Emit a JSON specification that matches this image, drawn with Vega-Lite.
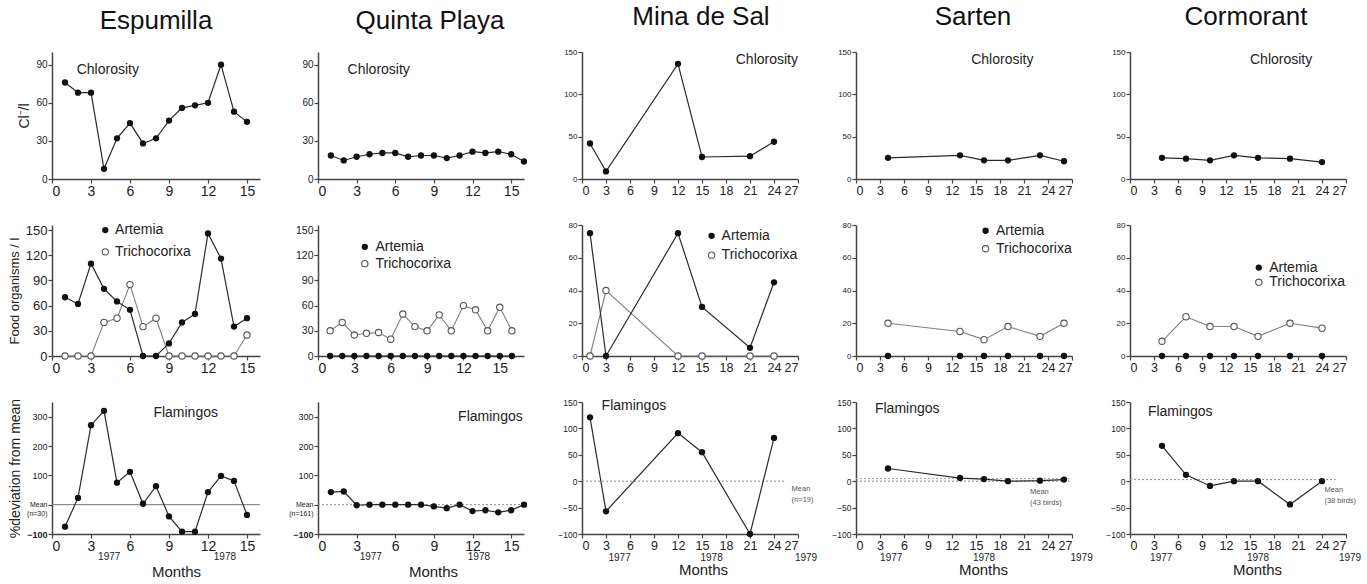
{
 "$schema": "https://vega.github.io/schema/vega-lite/v6.json",
 "padding": {"left": 8, "top": 4, "right": 0, "bottom": 0},
 "background": "white",
 "config": {
  "font": "Liberation Sans",
  "view": {"stroke": null},
  "axis": {"grid": false, "labelOverlap": false, "domainColor": "#444", "domainWidth": 1.5, "tickColor": "#444", "tickWidth": 1.2, "tickSize": 4, "labelColor": "#222", "titleColor": "#222", "titleFontWeight": "normal", "labelPadding": 1, "labelFont": "Liberation Sans", "titleFont": "Liberation Sans"},
  "title": {"font": "Liberation Sans", "fontWeight": "normal", "fontSize": 26, "color": "#111", "frame": "group", "anchor": "middle", "offset": 18},
  "text": {"font": "Liberation Sans", "color": "#222"}
 },
 "datasets": {
  "chl": [
   {"site":"Espumilla","m":1,"v":76},{"site":"Espumilla","m":2,"v":68},{"site":"Espumilla","m":3,"v":68},{"site":"Espumilla","m":4,"v":8},{"site":"Espumilla","m":5,"v":32},{"site":"Espumilla","m":6,"v":44},{"site":"Espumilla","m":7,"v":28},{"site":"Espumilla","m":8,"v":32},{"site":"Espumilla","m":9,"v":46},{"site":"Espumilla","m":10,"v":56},{"site":"Espumilla","m":11,"v":58},{"site":"Espumilla","m":12,"v":60},{"site":"Espumilla","m":13,"v":90},{"site":"Espumilla","m":14,"v":53},{"site":"Espumilla","m":15,"v":45},
   {"site":"Quinta Playa","m":1,"v":18.5},{"site":"Quinta Playa","m":2,"v":14.6},{"site":"Quinta Playa","m":3,"v":17.5},{"site":"Quinta Playa","m":4,"v":19.5},{"site":"Quinta Playa","m":5,"v":20.5},{"site":"Quinta Playa","m":6,"v":20.5},{"site":"Quinta Playa","m":7,"v":17.5},{"site":"Quinta Playa","m":8,"v":18.5},{"site":"Quinta Playa","m":9,"v":18.5},{"site":"Quinta Playa","m":10,"v":16.5},{"site":"Quinta Playa","m":11,"v":18.5},{"site":"Quinta Playa","m":12,"v":21.5},{"site":"Quinta Playa","m":13,"v":20.5},{"site":"Quinta Playa","m":14,"v":21.5},{"site":"Quinta Playa","m":15,"v":19.5},{"site":"Quinta Playa","m":16,"v":13.8},
   {"site":"Mina de Sal","m":1,"v":42},{"site":"Mina de Sal","m":3,"v":9},{"site":"Mina de Sal","m":12,"v":136},{"site":"Mina de Sal","m":15,"v":26},{"site":"Mina de Sal","m":21,"v":27},{"site":"Mina de Sal","m":24,"v":44},
   {"site":"Sarten","m":4,"v":25},{"site":"Sarten","m":13,"v":28},{"site":"Sarten","m":16,"v":22},{"site":"Sarten","m":19,"v":22},{"site":"Sarten","m":23,"v":28},{"site":"Sarten","m":26,"v":21},
   {"site":"Cormorant","m":4,"v":25},{"site":"Cormorant","m":7,"v":24},{"site":"Cormorant","m":10,"v":22},{"site":"Cormorant","m":13,"v":28},{"site":"Cormorant","m":16,"v":25},{"site":"Cormorant","m":20,"v":24},{"site":"Cormorant","m":24,"v":20}
  ],
  "food": [
   {"site":"Espumilla","sp":"Artemia","m":1,"v":70},{"site":"Espumilla","sp":"Artemia","m":2,"v":62},{"site":"Espumilla","sp":"Artemia","m":3,"v":110},{"site":"Espumilla","sp":"Artemia","m":4,"v":80},{"site":"Espumilla","sp":"Artemia","m":5,"v":65},{"site":"Espumilla","sp":"Artemia","m":6,"v":55},{"site":"Espumilla","sp":"Artemia","m":7,"v":0},{"site":"Espumilla","sp":"Artemia","m":8,"v":0},{"site":"Espumilla","sp":"Artemia","m":9,"v":15},{"site":"Espumilla","sp":"Artemia","m":10,"v":40},{"site":"Espumilla","sp":"Artemia","m":11,"v":50},{"site":"Espumilla","sp":"Artemia","m":12,"v":146},{"site":"Espumilla","sp":"Artemia","m":13,"v":116},{"site":"Espumilla","sp":"Artemia","m":14,"v":35},{"site":"Espumilla","sp":"Artemia","m":15,"v":45},
   {"site":"Espumilla","sp":"Trichocorixa","m":1,"v":0},{"site":"Espumilla","sp":"Trichocorixa","m":2,"v":0},{"site":"Espumilla","sp":"Trichocorixa","m":3,"v":0},{"site":"Espumilla","sp":"Trichocorixa","m":4,"v":40},{"site":"Espumilla","sp":"Trichocorixa","m":5,"v":45},{"site":"Espumilla","sp":"Trichocorixa","m":6,"v":85},{"site":"Espumilla","sp":"Trichocorixa","m":7,"v":35},{"site":"Espumilla","sp":"Trichocorixa","m":8,"v":45},{"site":"Espumilla","sp":"Trichocorixa","m":9,"v":0},{"site":"Espumilla","sp":"Trichocorixa","m":10,"v":0},{"site":"Espumilla","sp":"Trichocorixa","m":11,"v":0},{"site":"Espumilla","sp":"Trichocorixa","m":12,"v":0},{"site":"Espumilla","sp":"Trichocorixa","m":13,"v":0},{"site":"Espumilla","sp":"Trichocorixa","m":14,"v":0},{"site":"Espumilla","sp":"Trichocorixa","m":15,"v":25},
   {"site":"Quinta Playa","sp":"Artemia","m":1,"v":0},{"site":"Quinta Playa","sp":"Artemia","m":2,"v":0},{"site":"Quinta Playa","sp":"Artemia","m":3,"v":0},{"site":"Quinta Playa","sp":"Artemia","m":4,"v":0},{"site":"Quinta Playa","sp":"Artemia","m":5,"v":0},{"site":"Quinta Playa","sp":"Artemia","m":6,"v":0},{"site":"Quinta Playa","sp":"Artemia","m":7,"v":0},{"site":"Quinta Playa","sp":"Artemia","m":8,"v":0},{"site":"Quinta Playa","sp":"Artemia","m":9,"v":0},{"site":"Quinta Playa","sp":"Artemia","m":10,"v":0},{"site":"Quinta Playa","sp":"Artemia","m":11,"v":0},{"site":"Quinta Playa","sp":"Artemia","m":12,"v":0},{"site":"Quinta Playa","sp":"Artemia","m":13,"v":0},{"site":"Quinta Playa","sp":"Artemia","m":14,"v":0},{"site":"Quinta Playa","sp":"Artemia","m":15,"v":0},{"site":"Quinta Playa","sp":"Artemia","m":16,"v":0},
   {"site":"Quinta Playa","sp":"Trichocorixa","m":1,"v":30},{"site":"Quinta Playa","sp":"Trichocorixa","m":2,"v":40},{"site":"Quinta Playa","sp":"Trichocorixa","m":3,"v":25},{"site":"Quinta Playa","sp":"Trichocorixa","m":4,"v":27},{"site":"Quinta Playa","sp":"Trichocorixa","m":5,"v":28},{"site":"Quinta Playa","sp":"Trichocorixa","m":6,"v":20},{"site":"Quinta Playa","sp":"Trichocorixa","m":7,"v":50},{"site":"Quinta Playa","sp":"Trichocorixa","m":8,"v":35},{"site":"Quinta Playa","sp":"Trichocorixa","m":9,"v":30},{"site":"Quinta Playa","sp":"Trichocorixa","m":10,"v":49},{"site":"Quinta Playa","sp":"Trichocorixa","m":11,"v":30},{"site":"Quinta Playa","sp":"Trichocorixa","m":12,"v":60},{"site":"Quinta Playa","sp":"Trichocorixa","m":13,"v":55},{"site":"Quinta Playa","sp":"Trichocorixa","m":14,"v":30},{"site":"Quinta Playa","sp":"Trichocorixa","m":15,"v":58},{"site":"Quinta Playa","sp":"Trichocorixa","m":16,"v":30},
   {"site":"Mina de Sal","sp":"Artemia","m":1,"v":75},{"site":"Mina de Sal","sp":"Artemia","m":3,"v":0},{"site":"Mina de Sal","sp":"Artemia","m":12,"v":75},{"site":"Mina de Sal","sp":"Artemia","m":15,"v":30},{"site":"Mina de Sal","sp":"Artemia","m":21,"v":5},{"site":"Mina de Sal","sp":"Artemia","m":24,"v":45},
   {"site":"Mina de Sal","sp":"Trichocorixa","m":1,"v":0},{"site":"Mina de Sal","sp":"Trichocorixa","m":3,"v":40},{"site":"Mina de Sal","sp":"Trichocorixa","m":12,"v":0},{"site":"Mina de Sal","sp":"Trichocorixa","m":15,"v":0},{"site":"Mina de Sal","sp":"Trichocorixa","m":21,"v":0},{"site":"Mina de Sal","sp":"Trichocorixa","m":24,"v":0},
   {"site":"Sarten","sp":"Artemia","m":4,"v":0},{"site":"Sarten","sp":"Artemia","m":13,"v":0},{"site":"Sarten","sp":"Artemia","m":16,"v":0},{"site":"Sarten","sp":"Artemia","m":19,"v":0},{"site":"Sarten","sp":"Artemia","m":23,"v":0},{"site":"Sarten","sp":"Artemia","m":26,"v":0},
   {"site":"Sarten","sp":"Trichocorixa","m":4,"v":20},{"site":"Sarten","sp":"Trichocorixa","m":13,"v":15},{"site":"Sarten","sp":"Trichocorixa","m":16,"v":10},{"site":"Sarten","sp":"Trichocorixa","m":19,"v":18},{"site":"Sarten","sp":"Trichocorixa","m":23,"v":12},{"site":"Sarten","sp":"Trichocorixa","m":26,"v":20},
   {"site":"Cormorant","sp":"Artemia","m":4,"v":0},{"site":"Cormorant","sp":"Artemia","m":7,"v":0},{"site":"Cormorant","sp":"Artemia","m":10,"v":0},{"site":"Cormorant","sp":"Artemia","m":13,"v":0},{"site":"Cormorant","sp":"Artemia","m":16,"v":0},{"site":"Cormorant","sp":"Artemia","m":20,"v":0},{"site":"Cormorant","sp":"Artemia","m":24,"v":0},
   {"site":"Cormorant","sp":"Trichocorixa","m":4,"v":9},{"site":"Cormorant","sp":"Trichocorixa","m":7,"v":24},{"site":"Cormorant","sp":"Trichocorixa","m":10,"v":18},{"site":"Cormorant","sp":"Trichocorixa","m":13,"v":18},{"site":"Cormorant","sp":"Trichocorixa","m":16,"v":12},{"site":"Cormorant","sp":"Trichocorixa","m":20,"v":20},{"site":"Cormorant","sp":"Trichocorixa","m":24,"v":17}
  ],
  "fl": [
   {"site":"Espumilla","m":1,"v":-75},{"site":"Espumilla","m":2,"v":23},{"site":"Espumilla","m":3,"v":271},{"site":"Espumilla","m":4,"v":320},{"site":"Espumilla","m":5,"v":75},{"site":"Espumilla","m":6,"v":112},{"site":"Espumilla","m":7,"v":3},{"site":"Espumilla","m":8,"v":63},{"site":"Espumilla","m":9,"v":-40},{"site":"Espumilla","m":10,"v":-92},{"site":"Espumilla","m":11,"v":-92},{"site":"Espumilla","m":12,"v":43},{"site":"Espumilla","m":13,"v":98},{"site":"Espumilla","m":14,"v":81},{"site":"Espumilla","m":15,"v":-35},
   {"site":"Quinta Playa","m":1,"v":43},{"site":"Quinta Playa","m":2,"v":45},{"site":"Quinta Playa","m":3,"v":-2},{"site":"Quinta Playa","m":4,"v":0},{"site":"Quinta Playa","m":5,"v":0},{"site":"Quinta Playa","m":6,"v":0},{"site":"Quinta Playa","m":7,"v":0},{"site":"Quinta Playa","m":8,"v":0},{"site":"Quinta Playa","m":9,"v":-6},{"site":"Quinta Playa","m":10,"v":-12},{"site":"Quinta Playa","m":11,"v":0},{"site":"Quinta Playa","m":12,"v":-22},{"site":"Quinta Playa","m":13,"v":-19},{"site":"Quinta Playa","m":14,"v":-26},{"site":"Quinta Playa","m":15,"v":-19},{"site":"Quinta Playa","m":16,"v":0},
   {"site":"Mina de Sal","m":1,"v":121},{"site":"Mina de Sal","m":3,"v":-57},{"site":"Mina de Sal","m":12,"v":91},{"site":"Mina de Sal","m":15,"v":55},{"site":"Mina de Sal","m":21,"v":-100},{"site":"Mina de Sal","m":24,"v":82},
   {"site":"Sarten","m":4,"v":24},{"site":"Sarten","m":13,"v":6},{"site":"Sarten","m":16,"v":4},{"site":"Sarten","m":19,"v":0},{"site":"Sarten","m":23,"v":1},{"site":"Sarten","m":26,"v":3},
   {"site":"Cormorant","m":4,"v":67},{"site":"Cormorant","m":7,"v":12},{"site":"Cormorant","m":10,"v":-9},{"site":"Cormorant","m":13,"v":0},{"site":"Cormorant","m":16,"v":0},{"site":"Cormorant","m":20,"v":-44},{"site":"Cormorant","m":24,"v":0}
  ],
  "yrs": [
   {"site":"Espumilla","yr":"1977","m":4.4},{"site":"Espumilla","yr":"1978","m":13.3},
   {"site":"Quinta Playa","yr":"1977","m":4.1},{"site":"Quinta Playa","yr":"1978","m":12.5},
   {"site":"Mina de Sal","yr":"1977","m":4.7},{"site":"Mina de Sal","yr":"1978","m":16.2},{"site":"Mina de Sal","yr":"1979","m":28},
   {"site":"Sarten","yr":"1977","m":4.4},{"site":"Sarten","yr":"1978","m":16},{"site":"Sarten","yr":"1979","m":28.2},
   {"site":"Cormorant","yr":"1977","m":3.9},{"site":"Cormorant","yr":"1978","m":16},{"site":"Cormorant","yr":"1979","m":27.5}
  ]
 },
 "bounds": "flush",
 "columns": 5,
 "spacing": {"row": 46, "column": 58},
 "concat": [
  {"width":208,"height":127,"title":{"text":"Espumilla"},
   "layer":[
    {"data":{"name":"chl"},"transform":[{"filter":"datum.site=='Espumilla'"}],"mark":{"type":"line","color":"#2a2a2a","strokeWidth":1.2},
     "encoding":{"x":{"field":"m","type":"quantitative","scale":{"domain":[0,16],"nice":false},"axis":{"labelOverlap":false,"values":[0,3,6,9,12,15],"title":null,"labelFontSize":14}},"y":{"field":"v","type":"quantitative","scale":{"domain":[0,100],"nice":false},"axis":{"labelOverlap":false,"values":[0,30,60,90],"title":"Cl⁻/l","labelFontSize":10,"titleFontSize":14}}}},
    {"data":{"name":"chl"},"transform":[{"filter":"datum.site=='Espumilla'"}],"mark":{"type":"point","shape":"circle","filled":true,"color":"#111","size":40,"opacity":1},
     "encoding":{"x":{"field":"m","type":"quantitative","scale":{"domain":[0,16],"nice":false},"axis":{"labelOverlap":false,"values":[0,3,6,9,12,15],"title":null,"labelFontSize":14}},"y":{"field":"v","type":"quantitative","scale":{"domain":[0,100],"nice":false},"axis":{"labelOverlap":false,"values":[0,30,60,90],"title":"Cl⁻/l","labelFontSize":10,"titleFontSize":14}}}},
    {"data":{"values":[{}]},"mark":{"type":"text","align":"left","baseline":"middle","fontSize":14},
     "encoding":{"x":{"datum":1.9,"type":"quantitative","scale":{"domain":[0,16],"nice":false},"axis":{"labelOverlap":false,"values":[0,3,6,9,12,15],"title":null,"labelFontSize":14}},"y":{"datum":85.5,"type":"quantitative","scale":{"domain":[0,100],"nice":false},"axis":{"labelOverlap":false,"values":[0,30,60,90],"title":"Cl⁻/l","labelFontSize":10,"titleFontSize":14}},"text":{"value":"Chlorosity"}}}
   ]},
  {"width":206,"height":127,"title":{"text":"Quinta Playa","dx":9},
   "layer":[
    {"data":{"name":"chl"},"transform":[{"filter":"datum.site=='Quinta Playa'"}],"mark":{"type":"line","color":"#2a2a2a","strokeWidth":1.2},
     "encoding":{"x":{"field":"m","type":"quantitative","scale":{"domain":[0,16],"nice":false},"axis":{"labelOverlap":false,"values":[0,3,6,9,12,15],"title":null,"labelFontSize":14}},"y":{"field":"v","type":"quantitative","scale":{"domain":[0,100],"nice":false},"axis":{"labelOverlap":false,"values":[0,30,60,90],"title":null,"labelFontSize":10}}}},
    {"data":{"name":"chl"},"transform":[{"filter":"datum.site=='Quinta Playa'"}],"mark":{"type":"point","shape":"circle","filled":true,"color":"#111","size":40,"opacity":1},
     "encoding":{"x":{"field":"m","type":"quantitative","scale":{"domain":[0,16],"nice":false},"axis":{"labelOverlap":false,"values":[0,3,6,9,12,15],"title":null,"labelFontSize":14}},"y":{"field":"v","type":"quantitative","scale":{"domain":[0,100],"nice":false},"axis":{"labelOverlap":false,"values":[0,30,60,90],"title":null,"labelFontSize":10}}}},
    {"data":{"values":[{}]},"mark":{"type":"text","align":"left","baseline":"middle","fontSize":14},
     "encoding":{"x":{"datum":2.3,"type":"quantitative","scale":{"domain":[0,16],"nice":false},"axis":{"labelOverlap":false,"values":[0,3,6,9,12,15],"title":null,"labelFontSize":14}},"y":{"datum":86,"type":"quantitative","scale":{"domain":[0,100],"nice":false},"axis":{"labelOverlap":false,"values":[0,30,60,90],"title":null,"labelFontSize":10}},"text":{"value":"Chlorosity"}}}
   ]},
  {"width":216,"height":127,"title":{"text":"Mina de Sal","dx":11},
   "layer":[
    {"data":{"name":"chl"},"transform":[{"filter":"datum.site=='Mina de Sal'"}],"mark":{"type":"line","color":"#2a2a2a","strokeWidth":1.2},
     "encoding":{"x":{"field":"m","type":"quantitative","scale":{"domain":[0,27],"nice":false},"axis":{"labelOverlap":false,"values":[0,3,6,9,12,15,18,21,24,27],"title":null,"labelFontSize":12.5}},"y":{"field":"v","type":"quantitative","scale":{"domain":[0,150],"nice":false},"axis":{"labelOverlap":false,"values":[0,50,100,150],"title":null,"labelFontSize":8}}}},
    {"data":{"name":"chl"},"transform":[{"filter":"datum.site=='Mina de Sal'"}],"mark":{"type":"point","shape":"circle","filled":true,"color":"#111","size":40,"opacity":1},
     "encoding":{"x":{"field":"m","type":"quantitative","scale":{"domain":[0,27],"nice":false},"axis":{"labelOverlap":false,"values":[0,3,6,9,12,15,18,21,24,27],"title":null,"labelFontSize":12.5}},"y":{"field":"v","type":"quantitative","scale":{"domain":[0,150],"nice":false},"axis":{"labelOverlap":false,"values":[0,50,100,150],"title":null,"labelFontSize":8}}}},
    {"data":{"values":[{}]},"mark":{"type":"text","align":"right","baseline":"middle","fontSize":14},
     "encoding":{"x":{"datum":27,"type":"quantitative","scale":{"domain":[0,27],"nice":false},"axis":{"labelOverlap":false,"values":[0,3,6,9,12,15,18,21,24,27],"title":null,"labelFontSize":12.5}},"y":{"datum":141,"type":"quantitative","scale":{"domain":[0,150],"nice":false},"axis":{"labelOverlap":false,"values":[0,50,100,150],"title":null,"labelFontSize":8}},"text":{"value":"Chlorosity"}}}
   ]},
  {"width":216,"height":127,"title":{"text":"Sarten","dx":9},
   "layer":[
    {"data":{"name":"chl"},"transform":[{"filter":"datum.site=='Sarten'"}],"mark":{"type":"line","color":"#2a2a2a","strokeWidth":1.2},
     "encoding":{"x":{"field":"m","type":"quantitative","scale":{"domain":[0,27],"nice":false},"axis":{"labelOverlap":false,"values":[0,3,6,9,12,15,18,21,24,27],"title":null,"labelFontSize":12.5}},"y":{"field":"v","type":"quantitative","scale":{"domain":[0,150],"nice":false},"axis":{"labelOverlap":false,"values":[0,50,100,150],"title":null,"labelFontSize":8}}}},
    {"data":{"name":"chl"},"transform":[{"filter":"datum.site=='Sarten'"}],"mark":{"type":"point","shape":"circle","filled":true,"color":"#111","size":40,"opacity":1},
     "encoding":{"x":{"field":"m","type":"quantitative","scale":{"domain":[0,27],"nice":false},"axis":{"labelOverlap":false,"values":[0,3,6,9,12,15,18,21,24,27],"title":null,"labelFontSize":12.5}},"y":{"field":"v","type":"quantitative","scale":{"domain":[0,150],"nice":false},"axis":{"labelOverlap":false,"values":[0,50,100,150],"title":null,"labelFontSize":8}}}},
    {"data":{"values":[{}]},"mark":{"type":"text","align":"left","baseline":"middle","fontSize":14},
     "encoding":{"x":{"datum":14.4,"type":"quantitative","scale":{"domain":[0,27],"nice":false},"axis":{"labelOverlap":false,"values":[0,3,6,9,12,15,18,21,24,27],"title":null,"labelFontSize":12.5}},"y":{"datum":140,"type":"quantitative","scale":{"domain":[0,150],"nice":false},"axis":{"labelOverlap":false,"values":[0,50,100,150],"title":null,"labelFontSize":8}},"text":{"value":"Chlorosity"}}}
   ]},
  {"width":216,"height":127,"title":{"text":"Cormorant","dx":8},
   "layer":[
    {"data":{"name":"chl"},"transform":[{"filter":"datum.site=='Cormorant'"}],"mark":{"type":"line","color":"#2a2a2a","strokeWidth":1.2},
     "encoding":{"x":{"field":"m","type":"quantitative","scale":{"domain":[0,27],"nice":false},"axis":{"labelOverlap":false,"values":[0,3,6,9,12,15,18,21,24,27],"title":null,"labelFontSize":12.5}},"y":{"field":"v","type":"quantitative","scale":{"domain":[0,150],"nice":false},"axis":{"labelOverlap":false,"values":[0,50,100,150],"title":null,"labelFontSize":8}}}},
    {"data":{"name":"chl"},"transform":[{"filter":"datum.site=='Cormorant'"}],"mark":{"type":"point","shape":"circle","filled":true,"color":"#111","size":40,"opacity":1},
     "encoding":{"x":{"field":"m","type":"quantitative","scale":{"domain":[0,27],"nice":false},"axis":{"labelOverlap":false,"values":[0,3,6,9,12,15,18,21,24,27],"title":null,"labelFontSize":12.5}},"y":{"field":"v","type":"quantitative","scale":{"domain":[0,150],"nice":false},"axis":{"labelOverlap":false,"values":[0,50,100,150],"title":null,"labelFontSize":8}}}},
    {"data":{"values":[{}]},"mark":{"type":"text","align":"left","baseline":"middle","fontSize":14},
     "encoding":{"x":{"datum":15,"type":"quantitative","scale":{"domain":[0,27],"nice":false},"axis":{"labelOverlap":false,"values":[0,3,6,9,12,15,18,21,24,27],"title":null,"labelFontSize":12.5}},"y":{"datum":140,"type":"quantitative","scale":{"domain":[0,150],"nice":false},"axis":{"labelOverlap":false,"values":[0,50,100,150],"title":null,"labelFontSize":8}},"text":{"value":"Chlorosity"}}}
   ]},

  {"width":208,"height":131,
   "layer":[
    {"data":{"name":"food"},"transform":[{"filter":"datum.site=='Espumilla' && datum.sp=='Trichocorixa'"}],"mark":{"type":"line","color":"#808080","strokeWidth":1.1},
     "encoding":{"x":{"field":"m","type":"quantitative","scale":{"domain":[0,16],"nice":false},"axis":{"labelOverlap":false,"values":[0,3,6,9,12,15],"title":null,"labelFontSize":14}},"y":{"field":"v","type":"quantitative","scale":{"domain":[0,156],"nice":false},"axis":{"labelOverlap":false,"values":[0,30,60,90,120,150],"title":"Food organisms / l","labelFontSize":13,"titleFontSize":13}}}},
    {"data":{"name":"food"},"transform":[{"filter":"datum.site=='Espumilla' && datum.sp=='Artemia'"}],"mark":{"type":"line","color":"#2a2a2a","strokeWidth":1.2},
     "encoding":{"x":{"field":"m","type":"quantitative","scale":{"domain":[0,16],"nice":false},"axis":{"labelOverlap":false,"values":[0,3,6,9,12,15],"title":null,"labelFontSize":14}},"y":{"field":"v","type":"quantitative","scale":{"domain":[0,156],"nice":false},"axis":{"labelOverlap":false,"values":[0,30,60,90,120,150],"title":"Food organisms / l","labelFontSize":13,"titleFontSize":13}}}},
    {"data":{"name":"food"},"transform":[{"filter":"datum.site=='Espumilla' && datum.sp=='Trichocorixa'"}],"mark":{"type":"point","shape":"circle","filled":true,"fill":"#ffffff","stroke":"#555","strokeWidth":1.1,"size":40,"opacity":1},
     "encoding":{"x":{"field":"m","type":"quantitative","scale":{"domain":[0,16],"nice":false},"axis":{"labelOverlap":false,"values":[0,3,6,9,12,15],"title":null,"labelFontSize":14}},"y":{"field":"v","type":"quantitative","scale":{"domain":[0,156],"nice":false},"axis":{"labelOverlap":false,"values":[0,30,60,90,120,150],"title":"Food organisms / l","labelFontSize":13,"titleFontSize":13}}}},
    {"data":{"name":"food"},"transform":[{"filter":"datum.site=='Espumilla' && datum.sp=='Artemia'"}],"mark":{"type":"point","shape":"circle","filled":true,"color":"#111","size":40,"opacity":1},
     "encoding":{"x":{"field":"m","type":"quantitative","scale":{"domain":[0,16],"nice":false},"axis":{"labelOverlap":false,"values":[0,3,6,9,12,15],"title":null,"labelFontSize":14}},"y":{"field":"v","type":"quantitative","scale":{"domain":[0,156],"nice":false},"axis":{"labelOverlap":false,"values":[0,30,60,90,120,150],"title":"Food organisms / l","labelFontSize":13,"titleFontSize":13}}}},
    {"data":{"values":[{}]},"mark":{"type":"point","shape":"circle","filled":true,"color":"#111","size":40,"opacity":1},
     "encoding":{"x":{"datum":4.1,"type":"quantitative","scale":{"domain":[0,16],"nice":false},"axis":{"labelOverlap":false,"values":[0,3,6,9,12,15],"title":null,"labelFontSize":14}},"y":{"datum":150,"type":"quantitative","scale":{"domain":[0,156],"nice":false},"axis":{"labelOverlap":false,"values":[0,30,60,90,120,150],"title":"Food organisms / l","labelFontSize":13,"titleFontSize":13}}}},
    {"data":{"values":[{}]},"mark":{"type":"point","shape":"circle","filled":true,"fill":"#ffffff","stroke":"#555","strokeWidth":1.1,"size":40,"opacity":1},
     "encoding":{"x":{"datum":4.1,"type":"quantitative","scale":{"domain":[0,16],"nice":false},"axis":{"labelOverlap":false,"values":[0,3,6,9,12,15],"title":null,"labelFontSize":14}},"y":{"datum":124,"type":"quantitative","scale":{"domain":[0,156],"nice":false},"axis":{"labelOverlap":false,"values":[0,30,60,90,120,150],"title":"Food organisms / l","labelFontSize":13,"titleFontSize":13}}}},
    {"data":{"values":[{}]},"mark":{"type":"text","align":"left","baseline":"middle","fontSize":14},
     "encoding":{"x":{"datum":4.85,"type":"quantitative","scale":{"domain":[0,16],"nice":false},"axis":{"labelOverlap":false,"values":[0,3,6,9,12,15],"title":null,"labelFontSize":14}},"y":{"datum":150,"type":"quantitative","scale":{"domain":[0,156],"nice":false},"axis":{"labelOverlap":false,"values":[0,30,60,90,120,150],"title":"Food organisms / l","labelFontSize":13,"titleFontSize":13}},"text":{"value":"Artemia"}}},
    {"data":{"values":[{}]},"mark":{"type":"text","align":"left","baseline":"middle","fontSize":14},
     "encoding":{"x":{"datum":4.85,"type":"quantitative","scale":{"domain":[0,16],"nice":false},"axis":{"labelOverlap":false,"values":[0,3,6,9,12,15],"title":null,"labelFontSize":14}},"y":{"datum":124,"type":"quantitative","scale":{"domain":[0,156],"nice":false},"axis":{"labelOverlap":false,"values":[0,30,60,90,120,150],"title":"Food organisms / l","labelFontSize":13,"titleFontSize":13}},"text":{"value":"Trichocorixa"}}}
   ]},
  {"width":206,"height":131,
   "layer":[
    {"data":{"name":"food"},"transform":[{"filter":"datum.site=='Quinta Playa' && datum.sp=='Trichocorixa'"}],"mark":{"type":"line","color":"#808080","strokeWidth":1.1},
     "encoding":{"x":{"field":"m","type":"quantitative","scale":{"domain":[0,17],"nice":false},"axis":{"labelOverlap":false,"values":[0,3,6,9,12,15],"title":null,"labelFontSize":14}},"y":{"field":"v","type":"quantitative","scale":{"domain":[0,156],"nice":false},"axis":{"labelOverlap":false,"values":[0,30,60,90,120,150],"title":null,"labelFontSize":10.5}}}},
    {"data":{"name":"food"},"transform":[{"filter":"datum.site=='Quinta Playa' && datum.sp=='Artemia'"}],"mark":{"type":"line","color":"#2a2a2a","strokeWidth":1.2},
     "encoding":{"x":{"field":"m","type":"quantitative","scale":{"domain":[0,17],"nice":false},"axis":{"labelOverlap":false,"values":[0,3,6,9,12,15],"title":null,"labelFontSize":14}},"y":{"field":"v","type":"quantitative","scale":{"domain":[0,156],"nice":false},"axis":{"labelOverlap":false,"values":[0,30,60,90,120,150],"title":null,"labelFontSize":10.5}}}},
    {"data":{"name":"food"},"transform":[{"filter":"datum.site=='Quinta Playa' && datum.sp=='Trichocorixa'"}],"mark":{"type":"point","shape":"circle","filled":true,"fill":"#ffffff","stroke":"#555","strokeWidth":1.1,"size":40,"opacity":1},
     "encoding":{"x":{"field":"m","type":"quantitative","scale":{"domain":[0,17],"nice":false},"axis":{"labelOverlap":false,"values":[0,3,6,9,12,15],"title":null,"labelFontSize":14}},"y":{"field":"v","type":"quantitative","scale":{"domain":[0,156],"nice":false},"axis":{"labelOverlap":false,"values":[0,30,60,90,120,150],"title":null,"labelFontSize":10.5}}}},
    {"data":{"name":"food"},"transform":[{"filter":"datum.site=='Quinta Playa' && datum.sp=='Artemia'"}],"mark":{"type":"point","shape":"circle","filled":true,"color":"#111","size":40,"opacity":1},
     "encoding":{"x":{"field":"m","type":"quantitative","scale":{"domain":[0,17],"nice":false},"axis":{"labelOverlap":false,"values":[0,3,6,9,12,15],"title":null,"labelFontSize":14}},"y":{"field":"v","type":"quantitative","scale":{"domain":[0,156],"nice":false},"axis":{"labelOverlap":false,"values":[0,30,60,90,120,150],"title":null,"labelFontSize":10.5}}}},
    {"data":{"values":[{}]},"mark":{"type":"point","shape":"circle","filled":true,"color":"#111","size":40,"opacity":1},
     "encoding":{"x":{"datum":3.86,"type":"quantitative","scale":{"domain":[0,17],"nice":false},"axis":{"labelOverlap":false,"values":[0,3,6,9,12,15],"title":null,"labelFontSize":14}},"y":{"datum":130,"type":"quantitative","scale":{"domain":[0,156],"nice":false},"axis":{"labelOverlap":false,"values":[0,30,60,90,120,150],"title":null,"labelFontSize":10.5}}}},
    {"data":{"values":[{}]},"mark":{"type":"point","shape":"circle","filled":true,"fill":"#ffffff","stroke":"#555","strokeWidth":1.1,"size":40,"opacity":1},
     "encoding":{"x":{"datum":3.86,"type":"quantitative","scale":{"domain":[0,17],"nice":false},"axis":{"labelOverlap":false,"values":[0,3,6,9,12,15],"title":null,"labelFontSize":14}},"y":{"datum":110,"type":"quantitative","scale":{"domain":[0,156],"nice":false},"axis":{"labelOverlap":false,"values":[0,30,60,90,120,150],"title":null,"labelFontSize":10.5}}}},
    {"data":{"values":[{}]},"mark":{"type":"text","align":"left","baseline":"middle","fontSize":14},
     "encoding":{"x":{"datum":4.74,"type":"quantitative","scale":{"domain":[0,17],"nice":false},"axis":{"labelOverlap":false,"values":[0,3,6,9,12,15],"title":null,"labelFontSize":14}},"y":{"datum":130,"type":"quantitative","scale":{"domain":[0,156],"nice":false},"axis":{"labelOverlap":false,"values":[0,30,60,90,120,150],"title":null,"labelFontSize":10.5}},"text":{"value":"Artemia"}}},
    {"data":{"values":[{}]},"mark":{"type":"text","align":"left","baseline":"middle","fontSize":14},
     "encoding":{"x":{"datum":4.74,"type":"quantitative","scale":{"domain":[0,17],"nice":false},"axis":{"labelOverlap":false,"values":[0,3,6,9,12,15],"title":null,"labelFontSize":14}},"y":{"datum":110,"type":"quantitative","scale":{"domain":[0,156],"nice":false},"axis":{"labelOverlap":false,"values":[0,30,60,90,120,150],"title":null,"labelFontSize":10.5}},"text":{"value":"Trichocorixa"}}}
   ]},
  {"width":216,"height":131,
   "layer":[
    {"data":{"name":"food"},"transform":[{"filter":"datum.site=='Mina de Sal' && datum.sp=='Trichocorixa'"}],"mark":{"type":"line","color":"#808080","strokeWidth":1.1},
     "encoding":{"x":{"field":"m","type":"quantitative","scale":{"domain":[0,27],"nice":false},"axis":{"labelOverlap":false,"values":[0,3,6,9,12,15,18,21,24,27],"title":null,"labelFontSize":12.5}},"y":{"field":"v","type":"quantitative","scale":{"domain":[0,80],"nice":false},"axis":{"labelOverlap":false,"values":[0,20,40,60,80],"title":null,"labelFontSize":8}}}},
    {"data":{"name":"food"},"transform":[{"filter":"datum.site=='Mina de Sal' && datum.sp=='Artemia'"}],"mark":{"type":"line","color":"#2a2a2a","strokeWidth":1.2},
     "encoding":{"x":{"field":"m","type":"quantitative","scale":{"domain":[0,27],"nice":false},"axis":{"labelOverlap":false,"values":[0,3,6,9,12,15,18,21,24,27],"title":null,"labelFontSize":12.5}},"y":{"field":"v","type":"quantitative","scale":{"domain":[0,80],"nice":false},"axis":{"labelOverlap":false,"values":[0,20,40,60,80],"title":null,"labelFontSize":8}}}},
    {"data":{"name":"food"},"transform":[{"filter":"datum.site=='Mina de Sal' && datum.sp=='Trichocorixa'"}],"mark":{"type":"point","shape":"circle","filled":true,"fill":"#ffffff","stroke":"#555","strokeWidth":1.1,"size":40,"opacity":1},
     "encoding":{"x":{"field":"m","type":"quantitative","scale":{"domain":[0,27],"nice":false},"axis":{"labelOverlap":false,"values":[0,3,6,9,12,15,18,21,24,27],"title":null,"labelFontSize":12.5}},"y":{"field":"v","type":"quantitative","scale":{"domain":[0,80],"nice":false},"axis":{"labelOverlap":false,"values":[0,20,40,60,80],"title":null,"labelFontSize":8}}}},
    {"data":{"name":"food"},"transform":[{"filter":"datum.site=='Mina de Sal' && datum.sp=='Artemia'"}],"mark":{"type":"point","shape":"circle","filled":true,"color":"#111","size":40,"opacity":1},
     "encoding":{"x":{"field":"m","type":"quantitative","scale":{"domain":[0,27],"nice":false},"axis":{"labelOverlap":false,"values":[0,3,6,9,12,15,18,21,24,27],"title":null,"labelFontSize":12.5}},"y":{"field":"v","type":"quantitative","scale":{"domain":[0,80],"nice":false},"axis":{"labelOverlap":false,"values":[0,20,40,60,80],"title":null,"labelFontSize":8}}}},
    {"data":{"values":[{}]},"mark":{"type":"point","shape":"circle","filled":true,"color":"#111","size":40,"opacity":1},
     "encoding":{"x":{"datum":16.2,"type":"quantitative","scale":{"domain":[0,27],"nice":false},"axis":{"labelOverlap":false,"values":[0,3,6,9,12,15,18,21,24,27],"title":null,"labelFontSize":12.5}},"y":{"datum":73.4,"type":"quantitative","scale":{"domain":[0,80],"nice":false},"axis":{"labelOverlap":false,"values":[0,20,40,60,80],"title":null,"labelFontSize":8}}}},
    {"data":{"values":[{}]},"mark":{"type":"point","shape":"circle","filled":true,"fill":"#ffffff","stroke":"#555","strokeWidth":1.1,"size":40,"opacity":1},
     "encoding":{"x":{"datum":16.2,"type":"quantitative","scale":{"domain":[0,27],"nice":false},"axis":{"labelOverlap":false,"values":[0,3,6,9,12,15,18,21,24,27],"title":null,"labelFontSize":12.5}},"y":{"datum":61.6,"type":"quantitative","scale":{"domain":[0,80],"nice":false},"axis":{"labelOverlap":false,"values":[0,20,40,60,80],"title":null,"labelFontSize":8}}}},
    {"data":{"values":[{}]},"mark":{"type":"text","align":"left","baseline":"middle","fontSize":14},
     "encoding":{"x":{"datum":17.45,"type":"quantitative","scale":{"domain":[0,27],"nice":false},"axis":{"labelOverlap":false,"values":[0,3,6,9,12,15,18,21,24,27],"title":null,"labelFontSize":12.5}},"y":{"datum":73.4,"type":"quantitative","scale":{"domain":[0,80],"nice":false},"axis":{"labelOverlap":false,"values":[0,20,40,60,80],"title":null,"labelFontSize":8}},"text":{"value":"Artemia"}}},
    {"data":{"values":[{}]},"mark":{"type":"text","align":"left","baseline":"middle","fontSize":14},
     "encoding":{"x":{"datum":17.45,"type":"quantitative","scale":{"domain":[0,27],"nice":false},"axis":{"labelOverlap":false,"values":[0,3,6,9,12,15,18,21,24,27],"title":null,"labelFontSize":12.5}},"y":{"datum":61.6,"type":"quantitative","scale":{"domain":[0,80],"nice":false},"axis":{"labelOverlap":false,"values":[0,20,40,60,80],"title":null,"labelFontSize":8}},"text":{"value":"Trichocorixa"}}}
   ]},
  {"width":216,"height":131,
   "layer":[
    {"data":{"name":"food"},"transform":[{"filter":"datum.site=='Sarten' && datum.sp=='Trichocorixa'"}],"mark":{"type":"line","color":"#808080","strokeWidth":1.1},
     "encoding":{"x":{"field":"m","type":"quantitative","scale":{"domain":[0,27],"nice":false},"axis":{"labelOverlap":false,"values":[0,3,6,9,12,15,18,21,24,27],"title":null,"labelFontSize":12.5}},"y":{"field":"v","type":"quantitative","scale":{"domain":[0,80],"nice":false},"axis":{"labelOverlap":false,"values":[0,20,40,60,80],"title":null,"labelFontSize":8}}}},
    {"data":{"name":"food"},"transform":[{"filter":"datum.site=='Sarten' && datum.sp=='Trichocorixa'"}],"mark":{"type":"point","shape":"circle","filled":true,"fill":"#ffffff","stroke":"#555","strokeWidth":1.1,"size":40,"opacity":1},
     "encoding":{"x":{"field":"m","type":"quantitative","scale":{"domain":[0,27],"nice":false},"axis":{"labelOverlap":false,"values":[0,3,6,9,12,15,18,21,24,27],"title":null,"labelFontSize":12.5}},"y":{"field":"v","type":"quantitative","scale":{"domain":[0,80],"nice":false},"axis":{"labelOverlap":false,"values":[0,20,40,60,80],"title":null,"labelFontSize":8}}}},
    {"data":{"name":"food"},"transform":[{"filter":"datum.site=='Sarten' && datum.sp=='Artemia'"}],"mark":{"type":"point","shape":"circle","filled":true,"color":"#111","size":40,"opacity":1},
     "encoding":{"x":{"field":"m","type":"quantitative","scale":{"domain":[0,27],"nice":false},"axis":{"labelOverlap":false,"values":[0,3,6,9,12,15,18,21,24,27],"title":null,"labelFontSize":12.5}},"y":{"field":"v","type":"quantitative","scale":{"domain":[0,80],"nice":false},"axis":{"labelOverlap":false,"values":[0,20,40,60,80],"title":null,"labelFontSize":8}}}},
    {"data":{"values":[{}]},"mark":{"type":"point","shape":"circle","filled":true,"color":"#111","size":40,"opacity":1},
     "encoding":{"x":{"datum":16.2,"type":"quantitative","scale":{"domain":[0,27],"nice":false},"axis":{"labelOverlap":false,"values":[0,3,6,9,12,15,18,21,24,27],"title":null,"labelFontSize":12.5}},"y":{"datum":76.5,"type":"quantitative","scale":{"domain":[0,80],"nice":false},"axis":{"labelOverlap":false,"values":[0,20,40,60,80],"title":null,"labelFontSize":8}}}},
    {"data":{"values":[{}]},"mark":{"type":"point","shape":"circle","filled":true,"fill":"#ffffff","stroke":"#555","strokeWidth":1.1,"size":40,"opacity":1},
     "encoding":{"x":{"datum":16.2,"type":"quantitative","scale":{"domain":[0,27],"nice":false},"axis":{"labelOverlap":false,"values":[0,3,6,9,12,15,18,21,24,27],"title":null,"labelFontSize":12.5}},"y":{"datum":65.5,"type":"quantitative","scale":{"domain":[0,80],"nice":false},"axis":{"labelOverlap":false,"values":[0,20,40,60,80],"title":null,"labelFontSize":8}}}},
    {"data":{"values":[{}]},"mark":{"type":"text","align":"left","baseline":"middle","fontSize":14},
     "encoding":{"x":{"datum":17.5,"type":"quantitative","scale":{"domain":[0,27],"nice":false},"axis":{"labelOverlap":false,"values":[0,3,6,9,12,15,18,21,24,27],"title":null,"labelFontSize":12.5}},"y":{"datum":76.5,"type":"quantitative","scale":{"domain":[0,80],"nice":false},"axis":{"labelOverlap":false,"values":[0,20,40,60,80],"title":null,"labelFontSize":8}},"text":{"value":"Artemia"}}},
    {"data":{"values":[{}]},"mark":{"type":"text","align":"left","baseline":"middle","fontSize":14},
     "encoding":{"x":{"datum":17.5,"type":"quantitative","scale":{"domain":[0,27],"nice":false},"axis":{"labelOverlap":false,"values":[0,3,6,9,12,15,18,21,24,27],"title":null,"labelFontSize":12.5}},"y":{"datum":65.5,"type":"quantitative","scale":{"domain":[0,80],"nice":false},"axis":{"labelOverlap":false,"values":[0,20,40,60,80],"title":null,"labelFontSize":8}},"text":{"value":"Trichocorixa"}}}
   ]},
  {"width":216,"height":131,
   "layer":[
    {"data":{"name":"food"},"transform":[{"filter":"datum.site=='Cormorant' && datum.sp=='Trichocorixa'"}],"mark":{"type":"line","color":"#808080","strokeWidth":1.1},
     "encoding":{"x":{"field":"m","type":"quantitative","scale":{"domain":[0,27],"nice":false},"axis":{"labelOverlap":false,"values":[0,3,6,9,12,15,18,21,24,27],"title":null,"labelFontSize":12.5}},"y":{"field":"v","type":"quantitative","scale":{"domain":[0,80],"nice":false},"axis":{"labelOverlap":false,"values":[0,20,40,60,80],"title":null,"labelFontSize":8}}}},
    {"data":{"name":"food"},"transform":[{"filter":"datum.site=='Cormorant' && datum.sp=='Trichocorixa'"}],"mark":{"type":"point","shape":"circle","filled":true,"fill":"#ffffff","stroke":"#555","strokeWidth":1.1,"size":40,"opacity":1},
     "encoding":{"x":{"field":"m","type":"quantitative","scale":{"domain":[0,27],"nice":false},"axis":{"labelOverlap":false,"values":[0,3,6,9,12,15,18,21,24,27],"title":null,"labelFontSize":12.5}},"y":{"field":"v","type":"quantitative","scale":{"domain":[0,80],"nice":false},"axis":{"labelOverlap":false,"values":[0,20,40,60,80],"title":null,"labelFontSize":8}}}},
    {"data":{"name":"food"},"transform":[{"filter":"datum.site=='Cormorant' && datum.sp=='Artemia'"}],"mark":{"type":"point","shape":"circle","filled":true,"color":"#111","size":40,"opacity":1},
     "encoding":{"x":{"field":"m","type":"quantitative","scale":{"domain":[0,27],"nice":false},"axis":{"labelOverlap":false,"values":[0,3,6,9,12,15,18,21,24,27],"title":null,"labelFontSize":12.5}},"y":{"field":"v","type":"quantitative","scale":{"domain":[0,80],"nice":false},"axis":{"labelOverlap":false,"values":[0,20,40,60,80],"title":null,"labelFontSize":8}}}},
    {"data":{"values":[{}]},"mark":{"type":"point","shape":"circle","filled":true,"color":"#111","size":40,"opacity":1},
     "encoding":{"x":{"datum":16.1,"type":"quantitative","scale":{"domain":[0,27],"nice":false},"axis":{"labelOverlap":false,"values":[0,3,6,9,12,15,18,21,24,27],"title":null,"labelFontSize":12.5}},"y":{"datum":54,"type":"quantitative","scale":{"domain":[0,80],"nice":false},"axis":{"labelOverlap":false,"values":[0,20,40,60,80],"title":null,"labelFontSize":8}}}},
    {"data":{"values":[{}]},"mark":{"type":"point","shape":"circle","filled":true,"fill":"#ffffff","stroke":"#555","strokeWidth":1.1,"size":40,"opacity":1},
     "encoding":{"x":{"datum":16.1,"type":"quantitative","scale":{"domain":[0,27],"nice":false},"axis":{"labelOverlap":false,"values":[0,3,6,9,12,15,18,21,24,27],"title":null,"labelFontSize":12.5}},"y":{"datum":45,"type":"quantitative","scale":{"domain":[0,80],"nice":false},"axis":{"labelOverlap":false,"values":[0,20,40,60,80],"title":null,"labelFontSize":8}}}},
    {"data":{"values":[{}]},"mark":{"type":"text","align":"left","baseline":"middle","fontSize":14},
     "encoding":{"x":{"datum":17.4,"type":"quantitative","scale":{"domain":[0,27],"nice":false},"axis":{"labelOverlap":false,"values":[0,3,6,9,12,15,18,21,24,27],"title":null,"labelFontSize":12.5}},"y":{"datum":54,"type":"quantitative","scale":{"domain":[0,80],"nice":false},"axis":{"labelOverlap":false,"values":[0,20,40,60,80],"title":null,"labelFontSize":8}},"text":{"value":"Artemia"}}},
    {"data":{"values":[{}]},"mark":{"type":"text","align":"left","baseline":"middle","fontSize":14},
     "encoding":{"x":{"datum":17.4,"type":"quantitative","scale":{"domain":[0,27],"nice":false},"axis":{"labelOverlap":false,"values":[0,3,6,9,12,15,18,21,24,27],"title":null,"labelFontSize":12.5}},"y":{"datum":45,"type":"quantitative","scale":{"domain":[0,80],"nice":false},"axis":{"labelOverlap":false,"values":[0,20,40,60,80],"title":null,"labelFontSize":8}},"text":{"value":"Trichocorixa"}}}
   ]},

  {"width":208,"height":132,
   "layer":[
    {"data":{"values":[{}]},"mark":{"type":"rule","color":"#777","strokeWidth":1},
     "encoding":{"x":{"datum":0,"type":"quantitative","scale":{"domain":[0,16],"nice":false},"axis":{"labelOverlap":false,"values":[0,3,6,9,12,15],"title":"Months","titleFontSize":15,"titlePadding":11,"titleX":124,"labelFontSize":14}},"x2":{"datum":16},
                 "y":{"datum":0,"type":"quantitative","scale":{"domain":[-100,350],"nice":false},"axis":{"labelOverlap":false,"values":[-100,0,100,200,300],"title":"%deviation from mean","titleFontSize":14,"labelFontSize":{"condition":{"test":"datum.value==0","value":7},"value":9},"labelFontWeight":{"condition":{"test":"datum.value==-100","value":"bold"},"value":"normal"},"labelExpr":"datum.value==0 ? ['Mean','(n=30)'] : datum.label"}}}},
    {"data":{"name":"fl"},"transform":[{"filter":"datum.site=='Espumilla'"}],"mark":{"type":"line","color":"#2a2a2a","strokeWidth":1.2},
     "encoding":{"x":{"field":"m","type":"quantitative","scale":{"domain":[0,16],"nice":false},"axis":{"labelOverlap":false,"values":[0,3,6,9,12,15],"title":"Months","titleFontSize":15,"titlePadding":11,"titleX":124,"labelFontSize":14}},
                 "y":{"field":"v","type":"quantitative","scale":{"domain":[-100,350],"nice":false},"axis":{"labelOverlap":false,"values":[-100,0,100,200,300],"title":"%deviation from mean","titleFontSize":14,"labelFontSize":{"condition":{"test":"datum.value==0","value":7},"value":9},"labelFontWeight":{"condition":{"test":"datum.value==-100","value":"bold"},"value":"normal"},"labelExpr":"datum.value==0 ? ['Mean','(n=30)'] : datum.label"}}}},
    {"data":{"name":"fl"},"transform":[{"filter":"datum.site=='Espumilla'"}],"mark":{"type":"point","shape":"circle","filled":true,"color":"#111","size":40,"opacity":1},
     "encoding":{"x":{"field":"m","type":"quantitative","scale":{"domain":[0,16],"nice":false},"axis":{"labelOverlap":false,"values":[0,3,6,9,12,15],"title":"Months","titleFontSize":15,"titlePadding":11,"titleX":124,"labelFontSize":14}},
                 "y":{"field":"v","type":"quantitative","scale":{"domain":[-100,350],"nice":false},"axis":{"labelOverlap":false,"values":[-100,0,100,200,300],"title":"%deviation from mean","titleFontSize":14,"labelFontSize":{"condition":{"test":"datum.value==0","value":7},"value":9},"labelFontWeight":{"condition":{"test":"datum.value==-100","value":"bold"},"value":"normal"},"labelExpr":"datum.value==0 ? ['Mean','(n=30)'] : datum.label"}}}},
    {"data":{"values":[{}]},"mark":{"type":"text","align":"left","baseline":"middle","fontSize":14},
     "encoding":{"x":{"datum":7.8,"type":"quantitative","scale":{"domain":[0,16],"nice":false},"axis":{"labelOverlap":false,"values":[0,3,6,9,12,15],"title":"Months","titleFontSize":15,"titlePadding":11,"titleX":124,"labelFontSize":14}},
                 "y":{"datum":311,"type":"quantitative","scale":{"domain":[-100,350],"nice":false},"axis":{"labelOverlap":false,"values":[-100,0,100,200,300],"title":"%deviation from mean","titleFontSize":14,"labelFontSize":{"condition":{"test":"datum.value==0","value":7},"value":9},"labelFontWeight":{"condition":{"test":"datum.value==-100","value":"bold"},"value":"normal"},"labelExpr":"datum.value==0 ? ['Mean','(n=30)'] : datum.label"}},"text":{"value":"Flamingos"}}},
    {"data":{"name":"yrs"},"transform":[{"filter":"datum.site=='Espumilla'"}],"mark":{"type":"text","baseline":"middle","fontSize":10,"dy":23},
     "encoding":{"x":{"field":"m","type":"quantitative","scale":{"domain":[0,16],"nice":false},"axis":{"labelOverlap":false,"values":[0,3,6,9,12,15],"title":"Months","titleFontSize":15,"titlePadding":11,"titleX":124,"labelFontSize":14}},
                 "y":{"datum":-100,"type":"quantitative","scale":{"domain":[-100,350],"nice":false},"axis":{"labelOverlap":false,"values":[-100,0,100,200,300],"title":"%deviation from mean","titleFontSize":14,"labelFontSize":{"condition":{"test":"datum.value==0","value":7},"value":9},"labelFontWeight":{"condition":{"test":"datum.value==-100","value":"bold"},"value":"normal"},"labelExpr":"datum.value==0 ? ['Mean','(n=30)'] : datum.label"}},"text":{"field":"yr"}}}
   ]},
  {"width":206,"height":132,
   "layer":[
    {"data":{"values":[{}]},"mark":{"type":"rule","color":"#888","strokeWidth":1,"strokeDash":[2,2]},
     "encoding":{"x":{"datum":0,"type":"quantitative","scale":{"domain":[0,16],"nice":false},"axis":{"labelOverlap":false,"values":[0,3,6,9,12,15],"title":"Months","titleFontSize":15,"titlePadding":11,"titleX":115,"labelFontSize":14}},"x2":{"datum":16},
                 "y":{"datum":0,"type":"quantitative","scale":{"domain":[-100,350],"nice":false},"axis":{"labelOverlap":false,"values":[-100,0,100,200,300],"title":null,"labelFontSize":{"condition":{"test":"datum.value==0","value":7},"value":9},"labelFontWeight":{"condition":{"test":"datum.value==-100","value":"bold"},"value":"normal"},"labelExpr":"datum.value==0 ? ['Mean','(n=161)'] : datum.label"}}}},
    {"data":{"name":"fl"},"transform":[{"filter":"datum.site=='Quinta Playa'"}],"mark":{"type":"line","color":"#2a2a2a","strokeWidth":1.2},
     "encoding":{"x":{"field":"m","type":"quantitative","scale":{"domain":[0,16],"nice":false},"axis":{"labelOverlap":false,"values":[0,3,6,9,12,15],"title":"Months","titleFontSize":15,"titlePadding":11,"titleX":115,"labelFontSize":14}},
                 "y":{"field":"v","type":"quantitative","scale":{"domain":[-100,350],"nice":false},"axis":{"labelOverlap":false,"values":[-100,0,100,200,300],"title":null,"labelFontSize":{"condition":{"test":"datum.value==0","value":7},"value":9},"labelFontWeight":{"condition":{"test":"datum.value==-100","value":"bold"},"value":"normal"},"labelExpr":"datum.value==0 ? ['Mean','(n=161)'] : datum.label"}}}},
    {"data":{"name":"fl"},"transform":[{"filter":"datum.site=='Quinta Playa'"}],"mark":{"type":"point","shape":"circle","filled":true,"color":"#111","size":40,"opacity":1},
     "encoding":{"x":{"field":"m","type":"quantitative","scale":{"domain":[0,16],"nice":false},"axis":{"labelOverlap":false,"values":[0,3,6,9,12,15],"title":"Months","titleFontSize":15,"titlePadding":11,"titleX":115,"labelFontSize":14}},
                 "y":{"field":"v","type":"quantitative","scale":{"domain":[-100,350],"nice":false},"axis":{"labelOverlap":false,"values":[-100,0,100,200,300],"title":null,"labelFontSize":{"condition":{"test":"datum.value==0","value":7},"value":9},"labelFontWeight":{"condition":{"test":"datum.value==-100","value":"bold"},"value":"normal"},"labelExpr":"datum.value==0 ? ['Mean','(n=161)'] : datum.label"}}}},
    {"data":{"values":[{}]},"mark":{"type":"text","align":"right","baseline":"middle","fontSize":14},
     "encoding":{"x":{"datum":15.9,"type":"quantitative","scale":{"domain":[0,16],"nice":false},"axis":{"labelOverlap":false,"values":[0,3,6,9,12,15],"title":"Months","titleFontSize":15,"titlePadding":11,"titleX":115,"labelFontSize":14}},
                 "y":{"datum":300,"type":"quantitative","scale":{"domain":[-100,350],"nice":false},"axis":{"labelOverlap":false,"values":[-100,0,100,200,300],"title":null,"labelFontSize":{"condition":{"test":"datum.value==0","value":7},"value":9},"labelFontWeight":{"condition":{"test":"datum.value==-100","value":"bold"},"value":"normal"},"labelExpr":"datum.value==0 ? ['Mean','(n=161)'] : datum.label"}},"text":{"value":"Flamingos"}}},
    {"data":{"name":"yrs"},"transform":[{"filter":"datum.site=='Quinta Playa'"}],"mark":{"type":"text","baseline":"middle","fontSize":10,"dy":23},
     "encoding":{"x":{"field":"m","type":"quantitative","scale":{"domain":[0,16],"nice":false},"axis":{"labelOverlap":false,"values":[0,3,6,9,12,15],"title":"Months","titleFontSize":15,"titlePadding":11,"titleX":115,"labelFontSize":14}},
                 "y":{"datum":-100,"type":"quantitative","scale":{"domain":[-100,350],"nice":false},"axis":{"labelOverlap":false,"values":[-100,0,100,200,300],"title":null,"labelFontSize":{"condition":{"test":"datum.value==0","value":7},"value":9},"labelFontWeight":{"condition":{"test":"datum.value==-100","value":"bold"},"value":"normal"},"labelExpr":"datum.value==0 ? ['Mean','(n=161)'] : datum.label"}},"text":{"field":"yr"}}}
   ]},
  {"width":216,"height":132,
   "layer":[
    {"data":{"values":[{}]},"mark":{"type":"rule","color":"#888","strokeWidth":1,"strokeDash":[2,2]},
     "encoding":{"x":{"datum":0,"type":"quantitative","scale":{"domain":[0,27],"nice":false},"axis":{"labelOverlap":false,"values":[0,3,6,9,12,15,18,21,24,27],"title":"Months","titleFontSize":15,"titlePadding":11,"titleX":121,"labelFontSize":12.5}},"x2":{"datum":25.3},
                 "y":{"datum":0,"type":"quantitative","scale":{"domain":[-100,150],"nice":false},"axis":{"labelOverlap":false,"values":[-100,-50,0,50,100,150],"title":null,"labelFontSize":8.5}}}},
    {"data":{"name":"fl"},"transform":[{"filter":"datum.site=='Mina de Sal'"}],"mark":{"type":"line","color":"#2a2a2a","strokeWidth":1.2},
     "encoding":{"x":{"field":"m","type":"quantitative","scale":{"domain":[0,27],"nice":false},"axis":{"labelOverlap":false,"values":[0,3,6,9,12,15,18,21,24,27],"title":"Months","titleFontSize":15,"titlePadding":11,"titleX":121,"labelFontSize":12.5}},
                 "y":{"field":"v","type":"quantitative","scale":{"domain":[-100,150],"nice":false},"axis":{"labelOverlap":false,"values":[-100,-50,0,50,100,150],"title":null,"labelFontSize":8.5}}}},
    {"data":{"name":"fl"},"transform":[{"filter":"datum.site=='Mina de Sal'"}],"mark":{"type":"point","shape":"circle","filled":true,"color":"#111","size":40,"opacity":1},
     "encoding":{"x":{"field":"m","type":"quantitative","scale":{"domain":[0,27],"nice":false},"axis":{"labelOverlap":false,"values":[0,3,6,9,12,15,18,21,24,27],"title":"Months","titleFontSize":15,"titlePadding":11,"titleX":121,"labelFontSize":12.5}},
                 "y":{"field":"v","type":"quantitative","scale":{"domain":[-100,150],"nice":false},"axis":{"labelOverlap":false,"values":[-100,-50,0,50,100,150],"title":null,"labelFontSize":8.5}}}},
    {"data":{"values":[{}]},"mark":{"type":"text","align":"left","baseline":"middle","fontSize":14},
     "encoding":{"x":{"datum":2.45,"type":"quantitative","scale":{"domain":[0,27],"nice":false},"axis":{"labelOverlap":false,"values":[0,3,6,9,12,15,18,21,24,27],"title":"Months","titleFontSize":15,"titlePadding":11,"titleX":121,"labelFontSize":12.5}},
                 "y":{"datum":142.5,"type":"quantitative","scale":{"domain":[-100,150],"nice":false},"axis":{"labelOverlap":false,"values":[-100,-50,0,50,100,150],"title":null,"labelFontSize":8.5}},"text":{"value":"Flamingos"}}},
    {"data":{"values":[{}]},"mark":{"type":"text","align":"left","baseline":"top","fontSize":7.5,"lineHeight":11,"color":"#555"},
     "encoding":{"x":{"datum":26.2,"type":"quantitative","scale":{"domain":[0,27],"nice":false},"axis":{"labelOverlap":false,"values":[0,3,6,9,12,15,18,21,24,27],"title":"Months","titleFontSize":15,"titlePadding":11,"titleX":121,"labelFontSize":12.5}},
                 "y":{"datum":-8,"type":"quantitative","scale":{"domain":[-100,150],"nice":false},"axis":{"labelOverlap":false,"values":[-100,-50,0,50,100,150],"title":null,"labelFontSize":8.5}},"text":{"value":["Mean","(n=19)"]}}},
    {"data":{"name":"yrs"},"transform":[{"filter":"datum.site=='Mina de Sal'"}],"mark":{"type":"text","baseline":"middle","fontSize":10,"dy":24},
     "encoding":{"x":{"field":"m","type":"quantitative","scale":{"domain":[0,27],"nice":false},"axis":{"labelOverlap":false,"values":[0,3,6,9,12,15,18,21,24,27],"title":"Months","titleFontSize":15,"titlePadding":11,"titleX":121,"labelFontSize":12.5}},
                 "y":{"datum":-100,"type":"quantitative","scale":{"domain":[-100,150],"nice":false},"axis":{"labelOverlap":false,"values":[-100,-50,0,50,100,150],"title":null,"labelFontSize":8.5}},"text":{"field":"yr"}}}
   ]},
  {"width":216,"height":132,
   "layer":[
    {"data":{"values":[{}]},"mark":{"type":"rule","color":"#888","strokeWidth":1,"strokeDash":[2,2]},
     "encoding":{"x":{"datum":0,"type":"quantitative","scale":{"domain":[0,27],"nice":false},"axis":{"labelOverlap":false,"values":[0,3,6,9,12,15,18,21,24,27],"title":"Months","titleFontSize":15,"titlePadding":11,"titleX":127,"labelFontSize":12.5}},"x2":{"datum":26.7},
                 "y":{"datum":0,"type":"quantitative","scale":{"domain":[-100,150],"nice":false},"axis":{"labelOverlap":false,"values":[-100,-50,0,50,100,150],"title":null,"labelFontSize":8.5}}}},
    {"data":{"values":[{}]},"mark":{"type":"rule","color":"#aaa","strokeWidth":1,"strokeDash":[2,2]},
     "encoding":{"x":{"datum":0,"type":"quantitative","scale":{"domain":[0,27],"nice":false},"axis":{"labelOverlap":false,"values":[0,3,6,9,12,15,18,21,24,27],"title":"Months","titleFontSize":15,"titlePadding":11,"titleX":127,"labelFontSize":12.5}},"x2":{"datum":26.7},
                 "y":{"datum":5,"type":"quantitative","scale":{"domain":[-100,150],"nice":false},"axis":{"labelOverlap":false,"values":[-100,-50,0,50,100,150],"title":null,"labelFontSize":8.5}}}},
    {"data":{"name":"fl"},"transform":[{"filter":"datum.site=='Sarten'"}],"mark":{"type":"line","color":"#2a2a2a","strokeWidth":1.2},
     "encoding":{"x":{"field":"m","type":"quantitative","scale":{"domain":[0,27],"nice":false},"axis":{"labelOverlap":false,"values":[0,3,6,9,12,15,18,21,24,27],"title":"Months","titleFontSize":15,"titlePadding":11,"titleX":127,"labelFontSize":12.5}},
                 "y":{"field":"v","type":"quantitative","scale":{"domain":[-100,150],"nice":false},"axis":{"labelOverlap":false,"values":[-100,-50,0,50,100,150],"title":null,"labelFontSize":8.5}}}},
    {"data":{"name":"fl"},"transform":[{"filter":"datum.site=='Sarten'"}],"mark":{"type":"point","shape":"circle","filled":true,"color":"#111","size":40,"opacity":1},
     "encoding":{"x":{"field":"m","type":"quantitative","scale":{"domain":[0,27],"nice":false},"axis":{"labelOverlap":false,"values":[0,3,6,9,12,15,18,21,24,27],"title":"Months","titleFontSize":15,"titlePadding":11,"titleX":127,"labelFontSize":12.5}},
                 "y":{"field":"v","type":"quantitative","scale":{"domain":[-100,150],"nice":false},"axis":{"labelOverlap":false,"values":[-100,-50,0,50,100,150],"title":null,"labelFontSize":8.5}}}},
    {"data":{"values":[{}]},"mark":{"type":"text","align":"left","baseline":"middle","fontSize":14},
     "encoding":{"x":{"datum":2.37,"type":"quantitative","scale":{"domain":[0,27],"nice":false},"axis":{"labelOverlap":false,"values":[0,3,6,9,12,15,18,21,24,27],"title":"Months","titleFontSize":15,"titlePadding":11,"titleX":127,"labelFontSize":12.5}},
                 "y":{"datum":137,"type":"quantitative","scale":{"domain":[-100,150],"nice":false},"axis":{"labelOverlap":false,"values":[-100,-50,0,50,100,150],"title":null,"labelFontSize":8.5}},"text":{"value":"Flamingos"}}},
    {"data":{"values":[{}]},"mark":{"type":"text","align":"left","baseline":"top","fontSize":7.5,"lineHeight":11,"color":"#555"},
     "encoding":{"x":{"datum":21.75,"type":"quantitative","scale":{"domain":[0,27],"nice":false},"axis":{"labelOverlap":false,"values":[0,3,6,9,12,15,18,21,24,27],"title":"Months","titleFontSize":15,"titlePadding":11,"titleX":127,"labelFontSize":12.5}},
                 "y":{"datum":-13,"type":"quantitative","scale":{"domain":[-100,150],"nice":false},"axis":{"labelOverlap":false,"values":[-100,-50,0,50,100,150],"title":null,"labelFontSize":8.5}},"text":{"value":["Mean","(43 birds)"]}}},
    {"data":{"name":"yrs"},"transform":[{"filter":"datum.site=='Sarten'"}],"mark":{"type":"text","baseline":"middle","fontSize":10,"dy":24},
     "encoding":{"x":{"field":"m","type":"quantitative","scale":{"domain":[0,27],"nice":false},"axis":{"labelOverlap":false,"values":[0,3,6,9,12,15,18,21,24,27],"title":"Months","titleFontSize":15,"titlePadding":11,"titleX":127,"labelFontSize":12.5}},
                 "y":{"datum":-100,"type":"quantitative","scale":{"domain":[-100,150],"nice":false},"axis":{"labelOverlap":false,"values":[-100,-50,0,50,100,150],"title":null,"labelFontSize":8.5}},"text":{"field":"yr"}}}
   ]},
  {"width":216,"height":132,
   "layer":[
    {"data":{"values":[{}]},"mark":{"type":"rule","color":"#888","strokeWidth":1,"strokeDash":[2,2]},
     "encoding":{"x":{"datum":0,"type":"quantitative","scale":{"domain":[0,27],"nice":false},"axis":{"labelOverlap":false,"values":[0,3,6,9,12,15,18,21,24,27],"title":"Months","titleFontSize":15,"titlePadding":11,"titleX":127,"labelFontSize":12.5}},"x2":{"datum":25.7},
                 "y":{"datum":3,"type":"quantitative","scale":{"domain":[-100,150],"nice":false},"axis":{"labelOverlap":false,"values":[-100,-50,0,50,100,150],"title":null,"labelFontSize":8.5}}}},
    {"data":{"name":"fl"},"transform":[{"filter":"datum.site=='Cormorant'"}],"mark":{"type":"line","color":"#2a2a2a","strokeWidth":1.2},
     "encoding":{"x":{"field":"m","type":"quantitative","scale":{"domain":[0,27],"nice":false},"axis":{"labelOverlap":false,"values":[0,3,6,9,12,15,18,21,24,27],"title":"Months","titleFontSize":15,"titlePadding":11,"titleX":127,"labelFontSize":12.5}},
                 "y":{"field":"v","type":"quantitative","scale":{"domain":[-100,150],"nice":false},"axis":{"labelOverlap":false,"values":[-100,-50,0,50,100,150],"title":null,"labelFontSize":8.5}}}},
    {"data":{"name":"fl"},"transform":[{"filter":"datum.site=='Cormorant'"}],"mark":{"type":"point","shape":"circle","filled":true,"color":"#111","size":40,"opacity":1},
     "encoding":{"x":{"field":"m","type":"quantitative","scale":{"domain":[0,27],"nice":false},"axis":{"labelOverlap":false,"values":[0,3,6,9,12,15,18,21,24,27],"title":"Months","titleFontSize":15,"titlePadding":11,"titleX":127,"labelFontSize":12.5}},
                 "y":{"field":"v","type":"quantitative","scale":{"domain":[-100,150],"nice":false},"axis":{"labelOverlap":false,"values":[-100,-50,0,50,100,150],"title":null,"labelFontSize":8.5}}}},
    {"data":{"values":[{}]},"mark":{"type":"text","align":"left","baseline":"middle","fontSize":14},
     "encoding":{"x":{"datum":2.24,"type":"quantitative","scale":{"domain":[0,27],"nice":false},"axis":{"labelOverlap":false,"values":[0,3,6,9,12,15,18,21,24,27],"title":"Months","titleFontSize":15,"titlePadding":11,"titleX":127,"labelFontSize":12.5}},
                 "y":{"datum":130.7,"type":"quantitative","scale":{"domain":[-100,150],"nice":false},"axis":{"labelOverlap":false,"values":[-100,-50,0,50,100,150],"title":null,"labelFontSize":8.5}},"text":{"value":"Flamingos"}}},
    {"data":{"values":[{}]},"mark":{"type":"text","align":"left","baseline":"top","fontSize":7.5,"lineHeight":11,"color":"#555"},
     "encoding":{"x":{"datum":24.3,"type":"quantitative","scale":{"domain":[0,27],"nice":false},"axis":{"labelOverlap":false,"values":[0,3,6,9,12,15,18,21,24,27],"title":"Months","titleFontSize":15,"titlePadding":11,"titleX":127,"labelFontSize":12.5}},
                 "y":{"datum":-10,"type":"quantitative","scale":{"domain":[-100,150],"nice":false},"axis":{"labelOverlap":false,"values":[-100,-50,0,50,100,150],"title":null,"labelFontSize":8.5}},"text":{"value":["Mean","(38 birds)"]}}},
    {"data":{"name":"yrs"},"transform":[{"filter":"datum.site=='Cormorant'"}],"mark":{"type":"text","baseline":"middle","fontSize":10,"dy":24},
     "encoding":{"x":{"field":"m","type":"quantitative","scale":{"domain":[0,27],"nice":false},"axis":{"labelOverlap":false,"values":[0,3,6,9,12,15,18,21,24,27],"title":"Months","titleFontSize":15,"titlePadding":11,"titleX":127,"labelFontSize":12.5}},
                 "y":{"datum":-100,"type":"quantitative","scale":{"domain":[-100,150],"nice":false},"axis":{"labelOverlap":false,"values":[-100,-50,0,50,100,150],"title":null,"labelFontSize":8.5}},"text":{"field":"yr"}}}
   ]}
 ]
}
